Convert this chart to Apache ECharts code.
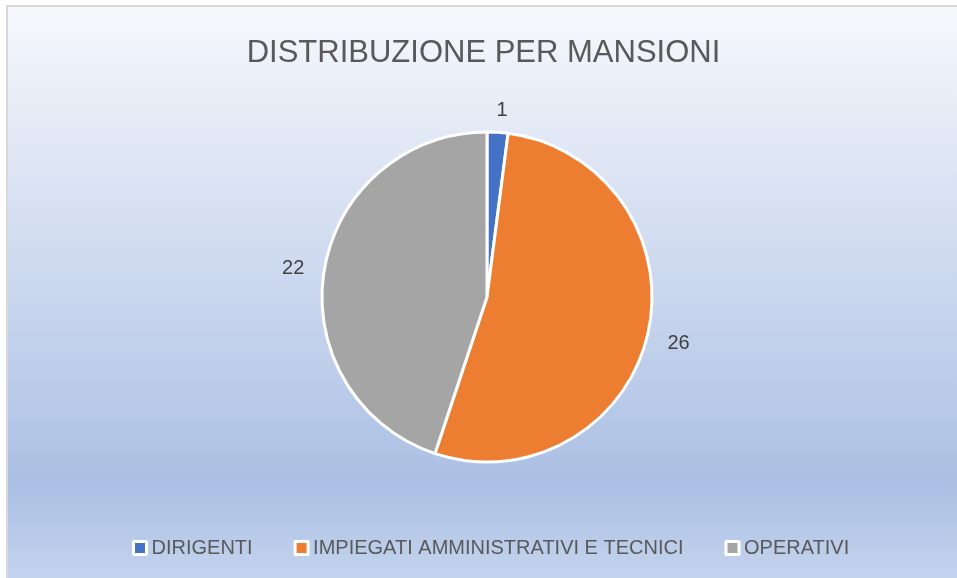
<!DOCTYPE html>
<html>
<head>
<meta charset="utf-8">
<script src="https://cdn.jsdelivr.net/npm/echarts@6/dist/echarts.min.js"></script>
<style>
  html, body { margin: 0; padding: 0; background: #ffffff; width: 957px; height: 578px; overflow: hidden; }
  #wrap { position: absolute; left: 6px; top: 5px; width: 951px; height: 573px;
          border-top: 2px solid #d9d9d9; border-left: 2px solid #d9d9d9; }
  #chart { width: 951px; height: 573px; }
</style>
</head>
<body>
<div id="wrap"><div id="chart"></div></div>
<script>
const titleText = 'DISTRIBUZIONE PER MANSIONI';
const categories = ['DIRIGENTI', 'IMPIEGATI AMMINISTRATIVI E TECNICI', 'OPERATIVI'];
const values = [1, 26, 22];
const colors = ['#4472c4', '#ed7d31', '#a5a5a5'];

const chart = echarts.init(document.getElementById('chart'), null, { renderer: 'canvas' });
const FONT = '"Liberation Sans", Arial, sans-serif';
// small label nudges to match the reference placement
const labelNudge = [[-7, -7], [0, 6], [0, 0]];

chart.setOption({
  animation: false,
  backgroundColor: new echarts.graphic.LinearGradient(0, 0, 0, 1, [
    { offset: 0, color: '#f6f8fc' },
    { offset: 0.74, color: '#b4c6e7' },
    { offset: 0.83, color: '#aabfe3' },
    { offset: 1, color: '#c5d4ee' }
  ]),
  color: colors,
  title: {
    text: titleText,
    left: 'center',
    top: 26,
    textStyle: { fontFamily: FONT, fontSize: 31, fontWeight: 'normal', color: '#595959' }
  },
  legend: {
    data: categories,
    left: 119,
    top: 526,
    itemWidth: 13,
    itemHeight: 13,
    itemGap: 41,
    icon: 'rect',
    itemStyle: { borderColor: '#ffffff', borderWidth: 3 },
    textStyle: { fontFamily: FONT, fontSize: 20, color: '#595959' }
  },
  series: [{
    type: 'pie',
    center: [479, 290],
    radius: 165,
    startAngle: 90,
    clockwise: true,
    itemStyle: { borderColor: '#ffffff', borderWidth: 3 },
    label: {
      show: true,
      position: 'outside',
      formatter: '{c}',
      fontFamily: FONT,
      fontSize: 20,
      color: '#404040'
    },
    labelLine: { show: false, length: 15, length2: 0 },
    emphasis: { disabled: true },
    data: categories.map((c, i) => ({ name: c, value: values[i], label: { offset: labelNudge[i] } }))
  }]
});
</script>
</body>
</html>
